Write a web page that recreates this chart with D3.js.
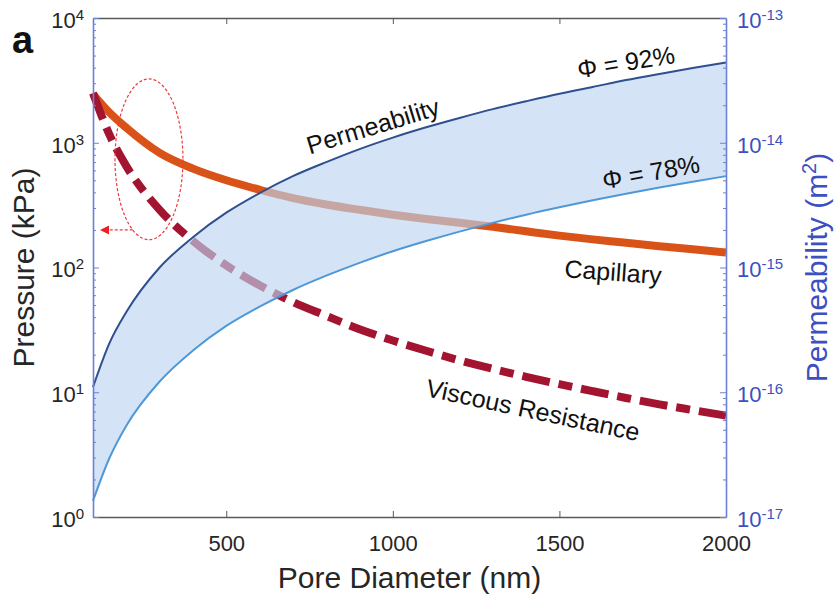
<!DOCTYPE html>
<html lang="en">
<head>
<meta charset="UTF-8">
<title>Pressure and permeability vs pore diameter</title>
<style>
  * { box-sizing: border-box; }
  body { margin: 0; background: #fff; font-family: 'Liberation Sans', Arial, sans-serif; }
  svg { display: block; }
</style>
</head>
<body>
<div id="chart"></div>
<script src="https://cdn.jsdelivr.net/npm/d3@7/dist/d3.min.js"></script>
<script>

// pore diameter (nm)
var diameters = [100, 150, 200, 300, 400, 500, 600, 700, 800, 900, 1000,
                 1100, 1200, 1300, 1400, 1500, 1600, 1700, 1800, 1900, 2000];
// pressure (kPa)
var capillary = [2450, 1740, 1320, 830, 620, 500, 420, 360, 320, 290, 265,
                 245, 228, 212, 195, 180, 168, 158, 148, 140, 132];
var viscous   = [2500, 1150, 650, 290, 163, 104, 72, 53, 41, 32, 26,
                 21.5, 18, 15.4, 13.3, 11.6, 10.2, 9, 8, 7.2, 6.5];
// permeability (m^2)
var perm92 = [1.1e-16, 2.5e-16, 4.4e-16, 1.0e-15, 1.75e-15, 2.75e-15, 3.95e-15, 5.4e-15, 7.0e-15, 8.9e-15, 1.1e-14,
              1.33e-14, 1.58e-14, 1.86e-14, 2.15e-14, 2.47e-14, 2.8e-14, 3.18e-14, 3.56e-14, 3.97e-14, 4.4e-14];
var perm78 = [1.35e-17, 3.0e-17, 5.4e-17, 1.22e-16, 2.16e-16, 3.4e-16, 4.85e-16, 6.6e-16, 8.6e-16, 1.09e-15, 1.35e-15,
              1.63e-15, 1.94e-15, 2.28e-15, 2.65e-15, 3.04e-15, 3.46e-15, 3.9e-15, 4.37e-15, 4.87e-15, 5.4e-15];

var xTicks = [500, 1000, 1500, 2000];
var leftExp = [0, 1, 2, 3, 4];
var rightExp = [-17, -16, -15, -14, -13];

var W = 836, H = 601;
var m = {top: 18, right: 110, bottom: 84, left: 93};

var axisBlue = '#6c80d8';
var labelBlue = '#3c50c2';
var axisGray = '#5a5a5a';
var textDark = '#262626';

var svg = d3.select('#chart').append('svg').attr('width', W).attr('height', H);

var x = d3.scaleLinear().domain([100, 2000]).range([m.left, W - m.right]);
var yP = d3.scaleLog().domain([1, 1e4]).range([H - m.bottom, m.top]);
var yK = d3.scaleLog().domain([1e-17, 1e-13]).range([H - m.bottom, m.top]);

var rows = diameters.map(function(d, i) {
    return {d: d, cap: capillary[i], vis: viscous[i], k92: perm92[i], k78: perm78[i]};
});

function minors(exps) {
    var out = [];
    exps.slice(0, -1).forEach(function(e) {
        for (var j = 2; j <= 9; j++) out.push(j * Math.pow(10, e));
    });
    return out;
}

// pressure curves
var capLine = d3.line().x(function(r) { return x(r.d); }).y(function(r) { return yP(r.cap); }).curve(d3.curveMonotoneX);
var visLine = d3.line().x(function(r) { return x(r.d); }).y(function(r) { return yP(r.vis); }).curve(d3.curveMonotoneX);

svg.append('path').datum(rows).attr('d', capLine)
    .attr('fill', 'none').attr('stroke', '#d95319').attr('stroke-width', 8).attr('stroke-linejoin', 'round');
svg.append('path').datum(rows).attr('d', visLine)
    .attr('fill', 'none').attr('stroke', '#a2142f').attr('stroke-width', 8)
    .attr('stroke-dasharray', '28,9,14,9');

// permeability band, drawn over the pressure curves
var band = d3.area()
    .x(function(r) { return x(r.d); })
    .y0(function(r) { return yK(r.k78); })
    .y1(function(r) { return yK(r.k92); })
    .curve(d3.curveMonotoneX);
svg.append('path').datum(rows).attr('d', band)
    .attr('fill', 'rgb(188,212,241)').attr('fill-opacity', 0.64);

var k92Line = d3.line().x(function(r) { return x(r.d); }).y(function(r) { return yK(r.k92); }).curve(d3.curveMonotoneX);
var k78Line = d3.line().x(function(r) { return x(r.d); }).y(function(r) { return yK(r.k78); }).curve(d3.curveMonotoneX);
svg.append('path').datum(rows).attr('d', k92Line)
    .attr('fill', 'none').attr('stroke', '#2f4f8f').attr('stroke-width', 2);
svg.append('path').datum(rows).attr('d', k78Line)
    .attr('fill', 'none').attr('stroke', '#4f98d8').attr('stroke-width', 2);

// axes
function supLabels(sel) {
    sel.selectAll('.tick text').each(function(d) {
        var t = d3.select(this);
        var e = Math.round(Math.log10(d));
        t.text('');
        t.append('tspan').text('10');
        t.append('tspan').attr('dy', '-8').attr('font-size', 15).text(e);
    });
}

var gx = svg.append('g').attr('transform', 'translate(0,' + (H - m.bottom) + ')')
    .call(d3.axisBottom(x).tickValues(xTicks).tickSizeInner(-6).tickSizeOuter(0).tickPadding(18).tickFormat(d3.format('d')));
gx.select('.domain').attr('stroke', axisGray).attr('stroke-width', 1.6);
gx.selectAll('.tick line').attr('stroke', axisGray);
gx.selectAll('.tick text').attr('font-size', 22).attr('fill', textDark).attr('font-family', 'Liberation Sans, Arial, sans-serif');

var gxt = svg.append('g').attr('transform', 'translate(0,' + m.top + ')')
    .call(d3.axisTop(x).tickValues(xTicks.slice(0, -1)).tickSizeInner(-6).tickSizeOuter(0).tickFormat(''));
gxt.select('.domain').attr('stroke', axisGray).attr('stroke-width', 1.6);
gxt.selectAll('.tick line').attr('stroke', axisGray);

// left axis (pressure)
var gyl = svg.append('g').attr('transform', 'translate(' + m.left + ',0)');
gyl.append('g').call(d3.axisLeft(yP).tickValues(minors(leftExp)).tickSize(-3).tickFormat(''))
    .call(function(g) { g.select('.domain').remove(); g.selectAll('line').attr('stroke', axisBlue); });
gyl.append('g').call(d3.axisLeft(yP).tickValues(leftExp.map(function(e) { return Math.pow(10, e); }))
        .tickSizeInner(-6).tickSizeOuter(0).tickPadding(9))
    .call(function(g) {
        g.select('.domain').attr('stroke', axisBlue).attr('stroke-width', 1.6);
        g.selectAll('line').attr('stroke', axisBlue);
        g.selectAll('.tick text').attr('font-size', 22).attr('fill', textDark).attr('dy', '0.42em')
            .attr('font-family', 'Liberation Sans, Arial, sans-serif');
        supLabels(g);
    });

// right axis (permeability)
var gyr = svg.append('g').attr('transform', 'translate(' + (W - m.right) + ',0)');
gyr.append('g').call(d3.axisRight(yK).tickValues(minors(rightExp)).tickSize(-3).tickFormat(''))
    .call(function(g) { g.select('.domain').remove(); g.selectAll('line').attr('stroke', axisBlue); });
gyr.append('g').call(d3.axisRight(yK).tickValues(rightExp.map(function(e) { return Math.pow(10, e); }))
        .tickSizeInner(-6).tickSizeOuter(0).tickPadding(11))
    .call(function(g) {
        g.select('.domain').attr('stroke', axisBlue).attr('stroke-width', 1.6);
        g.selectAll('line').attr('stroke', axisBlue);
        g.selectAll('.tick text').attr('font-size', 22).attr('fill', labelBlue).attr('dy', '0.42em')
            .attr('font-family', 'Liberation Sans, Arial, sans-serif');
        supLabels(g);
    });

// axis titles
svg.append('text').attr('x', (m.left + W - m.right) / 2).attr('y', 588)
    .attr('text-anchor', 'middle').attr('font-size', 30).attr('fill', textDark)
    .text('Pore Diameter (nm)');
svg.append('text').attr('transform', 'translate(34,' + ((m.top + H - m.bottom) / 2) + ') rotate(-90)')
    .attr('text-anchor', 'middle').attr('font-size', 30).attr('fill', textDark)
    .text('Pressure (kPa)');
var rt = svg.append('text').attr('transform', 'translate(827,' + ((m.top + H - m.bottom) / 2) + ') rotate(-90)')
    .attr('text-anchor', 'middle').attr('font-size', 30).attr('fill', labelBlue);
rt.append('tspan').text('Permeability (m');
rt.append('tspan').attr('dy', -11).attr('font-size', 20).text('2');
rt.append('tspan').attr('dy', 11).text(')');

// panel letter
svg.append('text').attr('x', 12).attr('y', 53).attr('font-size', 38).attr('font-weight', 'bold')
    .attr('fill', '#111').text('a');

// curve labels
var notes = [
    {text: 'Permeability', x: 373, y: 126, rot: -17},
    {text: '\u03A6 = 92%', x: 626, y: 62, rot: -9},
    {text: '\u03A6 = 78%', x: 651, y: 172, rot: -10},
    {text: 'Capillary', x: 613, y: 272, rot: 4},
    {text: 'Viscous Resistance', x: 533, y: 410, rot: 12}
];
svg.selectAll('text.note').data(notes).enter().append('text').attr('class', 'note')
    .attr('transform', function(n) { return 'translate(' + n.x + ',' + n.y + ') rotate(' + n.rot + ')'; })
    .attr('text-anchor', 'middle').attr('dy', '0.35em').attr('font-size', 25).attr('fill', '#111')
    .text(function(n) { return n.text; });

// dashed ellipse pointing to the left (pressure) axis
var ell = {d0: 166, d1: 370, p0: 167, p1: 3250};
var ecx = (x(ell.d0) + x(ell.d1)) / 2, ecy = (yP(ell.p0) + yP(ell.p1)) / 2;
var erx = (x(ell.d1) - x(ell.d0)) / 2, ery = (yP(ell.p0) - yP(ell.p1)) / 2;
svg.append('ellipse').attr('cx', ecx).attr('cy', ecy).attr('rx', erx).attr('ry', ery)
    .attr('fill', 'none').attr('stroke', '#f03a3a').attr('stroke-width', 1.2).attr('stroke-dasharray', '3,2');

var arrowY = yP(200);
var ex = ecx - erx * Math.sqrt(Math.max(0, 1 - Math.pow((arrowY - ecy) / ery, 2)));
var tipX = x(100) + 7;
svg.append('line').attr('x1', ex).attr('x2', tipX + 8).attr('y1', arrowY).attr('y2', arrowY)
    .attr('stroke', '#f03a3a').attr('stroke-width', 1.2).attr('stroke-dasharray', '3,2');
svg.append('path')
    .attr('d', 'M' + tipX + ',' + arrowY + 'l9,-4.5l0,9z')
    .attr('fill', '#f02020');

</script>
</body>
</html>
